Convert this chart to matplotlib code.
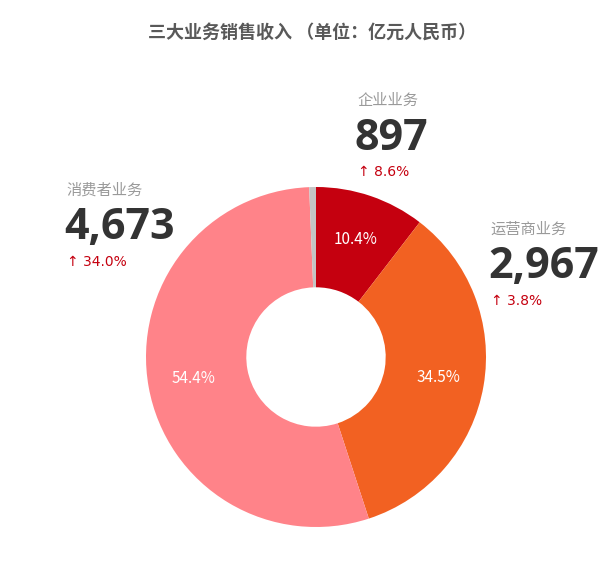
import matplotlib
matplotlib.use("Agg")
import matplotlib.pyplot as plt

plt.rcParams['font.family'] = ['Noto Sans CJK SC', 'DejaVu Sans']

# data
segments = ['企业业务', '运营商业务', '消费者业务', '其他']
revenue = [897, 2967, 4673, 55]
growth = ['8.6%', '3.8%', '34.0%']
colors = ['#C5000F', '#F26122', '#FF8389', '#C4C4C4']

fig = plt.figure(figsize=(6.09, 5.85), dpi=100)
W, H = 609, 585

# donut axes: centre (316, 357) px, radius 170 px
cx, cy, r = 316, 357, 170
ax = fig.add_axes([(cx - r) / W, (H - cy - r) / H, 2 * r / W, 2 * r / H])

def pct(p):
    return f'{p:.1f}%' if p > 2 else ''

wedges, _, autotexts = ax.pie(revenue, colors=colors, startangle=90, counterclock=False,
                              autopct=pct, pctdistance=0.73,
                              wedgeprops=dict(width=0.59, edgecolor='none'),
                              textprops=dict(color='white', fontsize=11))
ax.set_xlim(-1, 1)
ax.set_ylim(-1, 1)
ax.axis('off')

fig.text(312 / W, 1 - 32 / H, '三大业务销售收入 （单位：亿元人民币）', ha='center', va='center',
         fontsize=13, fontweight='bold', color='#595959')

# label blocks: (x, y of name line)
blocks = [(357, 100), (490, 229), (66, 190)]
for i, (x, y) in enumerate(blocks):
    fig.text(x / W, 1 - y / H, segments[i], ha='left', va='center', fontsize=11, color='#9A9A9A')
    fig.text((x - 2) / W, 1 - (y + 38) / H, f'{revenue[i]:,}', ha='left', va='center',
             fontsize=31, fontweight='bold', color='#333333', family=['Open Sans', 'DejaVu Sans'])
    fig.text((x + 1) / W, 1 - (y + 72) / H, '↑ ' + growth[i], ha='left', va='center',
             fontsize=10, color='#C5000F', family=['DejaVu Sans'])

fig.savefig('out.png', dpi=100)
